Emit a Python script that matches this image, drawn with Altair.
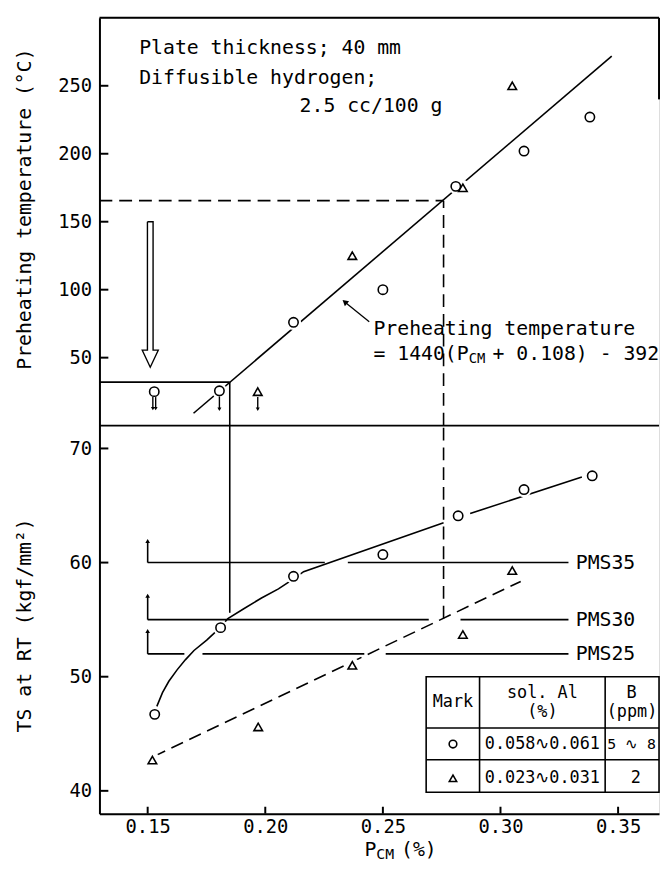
import altair as alt
import pandas as pd

FONT = "DejaVu Sans Mono"
W, H, H_TOP = 566, 805, 412.5
XMIN, XMAX = 0.1295, 0.3674
LW = 1.6

# ---------------- axis ticks ----------------
x_ticks = [0.15, 0.20, 0.25, 0.30, 0.35]
top_ticks = [50, 100, 150, 200, 250]
bot_ticks = [40, 50, 60, 70]

# ---------------- upper panel: preheating temperature ----------------
top_circle_x = [0.212, 0.250, 0.281, 0.310, 0.338]
top_circle_y = [76, 100, 176, 202, 227]
top_tri_x = [0.237, 0.284, 0.305]
top_tri_y = [125, 175, 250]
low_circle_x = [0.1528, 0.1805]
low_circle_y = [25.0, 25.6]
low_tri_x = [0.1968]
low_tri_y = [25.0]
# downward arrows below the lowest-temperature marks
low_arrow_x = [0.1522, 0.1534, 0.1805, 0.1968]
low_arrow_top = [21.0, 21.0, 21.5, 21.0]
low_arrow_tip = [12.5, 12.5, 12.0, 12.0]
reg_x = [0.1695, 0.3473]
reg_y = [9.1, 271.8]
box_level, box_pcm = 32, 0.1849
dash_level, dash_pcm = 165.5, 0.2758
bigarrow_x = [0.1499, 0.1523, 0.1523, 0.1545, 0.1511, 0.1477, 0.1499, 0.1499]
bigarrow_y = [150, 150, 55.5, 55.5, 43, 55.5, 55.5, 150]
leader_x = [0.2442, 0.2338]
leader_y = [76.5, 91.0]
top_text_x = [0.1464, 0.1464, 0.2146, 0.2460]
top_text_y = [278, 256, 235.4, 71.2]
top_text = ["Plate thickness; 40 mm", "Diffusible hydrogen;", "2.5 cc/100 g", "Preheating temperature"]
eq_x, eq_y = 0.2460, 52.9
eq_parts = ["= 1440(P", "CM", "+ 0.108) - 392"]

# ---------------- lower panel: tensile strength ----------------
bot_circle_x = [0.153, 0.181, 0.212, 0.250, 0.282, 0.310, 0.339]
bot_circle_y = [46.7, 54.3, 58.8, 60.7, 64.1, 66.4, 67.6]
bot_tri_x = [0.152, 0.197, 0.237, 0.284, 0.305]
bot_tri_y = [42.7, 45.6, 51.0, 53.7, 59.3]
curve_a_x = [0.1539, 0.1563, 0.1590, 0.1625, 0.1661, 0.1697, 0.1751, 0.1808,
             0.1841, 0.1912, 0.1984, 0.2056, 0.2122, 0.2163, 0.2758]
curve_a_y = [47.4, 48.6, 49.6, 50.6, 51.5, 52.3, 53.2, 54.3,
             55.1, 56.0, 56.9, 57.7, 58.6, 59.2, 63.5]
curve_b_x = [0.2871, 0.3346]
curve_b_y = [64.3, 67.5]
tri_line_x = [0.1525, 0.3086]
tri_line_y = [43.0, 58.35]
pms_names = ["PMS35", "PMS30", "PMS25"]
pms_level = [60, 55, 52]
pms_arrow_top = [61.9, 57.1, 54.0]
pms_seg_x1 = [0.15, 0.2351, 0.15, 0.2830, 0.15, 0.1733, 0.2512]
pms_seg_x2 = [0.2253, 0.3289, 0.2695, 0.3289, 0.1656, 0.2421, 0.3289]
pms_seg_y = [60, 60, 55, 55, 52, 52, 52]
pms_label_x = 0.3320
solid_v_bottom = 55.6
dash_v_bottom = 55.1

# ---------------- legend table ----------------
tab_x = [0.2684, 0.2911, 0.3445]      # left edge, column rules
tab_y = [50.0, 45.5, 42.73, 39.87]    # top, header rule, row rule, bottom
tab_text = ["Mark", "sol. Al", "(%)", "B", "(ppm)", "0.058∿0.061", "5 ∿ 8", "0.023∿0.031", "2"]
tab_text_x = [0.2798, 0.3178, 0.3178, 0.3557, 0.3559, 0.3178, 0.3557, 0.3178, 0.3575]
tab_text_y = [47.8, 48.6, 46.9, 48.6, 46.9, 44.1, 44.1, 41.1, 41.1]
tab_mark_x = [0.2798, 0.2798]
tab_mark_y = [44.1, 41.1]

# ================= scales / axes =================
xscale = alt.Scale(domain=[XMIN, XMAX], nice=False, zero=False)
xaxis = alt.Axis(values=x_ticks, format=".2f", title=None, labelFont=FONT, labelFontSize=19,
                 labelColor="black", labelPadding=4, ticks=False, tickSize=0,
                 domainColor="black", domainWidth=2, grid=False, labelFlush=False)
top_scale = alt.Scale(domain=[0, 300], range=[H_TOP, 0], nice=False, zero=False)
top_axis = alt.Axis(orient="left", values=top_ticks, title="Preheating temperature (°C)",
                    labelFont=FONT, labelFontSize=19, labelColor="black", labelPadding=8,
                    ticks=False, tickSize=0, domainColor="black", domainWidth=2, grid=False,
                    titleFont=FONT, titleFontSize=20, titleFontWeight="normal", titleColor="black",
                    titleX=-70, titleY=193, titleBaseline="alphabetic", titleAngle=270)
bot_scale = alt.Scale(domain=[38, 72], range=[H, H_TOP], nice=False, zero=False)
bot_axis = alt.Axis(orient="left", values=bot_ticks, title="TS at RT (kgf/mm²)",
                    labelFont=FONT, labelFontSize=19, labelColor="black", labelPadding=8,
                    ticks=False, tickSize=0, domainColor="black", domainWidth=2, grid=False,
                    titleFont=FONT, titleFontSize=20, titleFontWeight="normal", titleColor="black",
                    titleX=-70, titleY=614, titleBaseline="alphabetic", titleAngle=270)


def X(f="x"):
    return alt.X(f, type="quantitative", scale=xscale, axis=xaxis)


def YT(f="y"):
    return alt.Y(f, type="quantitative", scale=top_scale, axis=top_axis)


def YB(f="y"):
    return alt.Y(f, type="quantitative", scale=bot_scale, axis=bot_axis)


def D(**cols):
    return pd.DataFrame(cols)


def lines(xs, ys, Y, dash=None, width=LW):
    n = len(xs)
    d = D(x=xs, y=ys, i=list(range(n)))
    kw = dict(color="black", strokeWidth=width)
    if dash:
        kw["strokeDash"] = dash
    return alt.Chart(d).mark_line(**kw).encode(x=X("x"), y=Y("y"), order="i:Q")


def hrule(x1, x2, y, Y, dash=None, width=LW):
    kw = dict(color="black", strokeWidth=width)
    if dash:
        kw["strokeDash"] = dash
    return alt.Chart(D(x1=x1, x2=x2, y=y)).mark_rule(**kw).encode(
        x=X("x1"), x2=alt.X2("x2"), y=Y("y"))


def vrule(x, y1, y2, Y, dash=None, width=LW):
    kw = dict(color="black", strokeWidth=width)
    if dash:
        kw["strokeDash"] = dash
    return alt.Chart(D(x=x, y1=y1, y2=y2)).mark_rule(**kw).encode(
        x=X("x"), y=Y("y1"), y2=alt.Y2("y2"))


def heads(xs, ys, Y, shape, size=22):
    return alt.Chart(D(x=xs, y=ys)).mark_point(
        shape=shape, size=size, filled=True, color="black", opacity=1).encode(x=X("x"), y=Y("y"))


def markers(xs, ys, Y, shape, size=90, halo=False):
    if halo:
        return alt.Chart(D(x=xs, y=ys)).mark_point(
            shape="circle", size=240, filled=True, color="white", opacity=1).encode(x=X("x"), y=Y("y"))
    return alt.Chart(D(x=xs, y=ys)).mark_point(
        shape=shape, size=size, filled=False, color="black", strokeWidth=1.6, opacity=1
    ).encode(x=X("x"), y=Y("y"))


def texts(xs, ys, ts, Y, size=20, align="left", dx=0, dy=0):
    return alt.Chart(D(x=xs, y=ys, t=ts)).mark_text(
        font=FONT, fontSize=size, align=align, baseline="middle", color="black", dx=dx, dy=dy
    ).encode(x=X("x"), y=Y("y"), text="t:N")


DASH = [13, 7]
CW20 = 0.6021 * 20
CW14 = 0.6021 * 14

# ================= upper group =================
top_layers = [
    alt.Chart(D(y=top_ticks)).mark_rule(color="black", strokeWidth=2).encode(
        x=alt.value(0), x2=alt.value(9), y=YT("y")),
    hrule([XMIN], [XMAX], [300], YT, width=2),
    vrule([XMAX], [240], [300], YT, width=2),
    lines(reg_x, reg_y, YT),
    lines(leader_x, leader_y, YT, width=1.3),
    alt.Chart(D(x=[leader_x[1]], y=[leader_y[1]])).mark_point(
        shape="triangle-up", size=45, filled=True, color="black", angle=310, opacity=1
    ).encode(x=X("x"), y=YT("y")),
    lines(bigarrow_x, bigarrow_y, YT, width=1.4),
    markers(top_circle_x + low_circle_x + top_tri_x + low_tri_x,
            top_circle_y + low_circle_y + top_tri_y + low_tri_y, YT, "circle", halo=True),
    markers(top_circle_x + low_circle_x, top_circle_y + low_circle_y, YT, "circle"),
    markers(top_tri_x + low_tri_x, top_tri_y + low_tri_y, YT, "triangle-up", size=75),
    hrule([XMIN], [box_pcm], [box_level], YT),
    vrule([box_pcm], [0], [box_level], YT),
    hrule([XMIN], [dash_pcm], [dash_level], YT, dash=DASH),
    vrule([dash_pcm], [0], [dash_level], YT, dash=DASH),
    vrule(low_arrow_x, low_arrow_tip, low_arrow_top, YT, width=1.4),
    heads(low_arrow_x, low_arrow_tip, YT, "triangle-down", size=16),
    texts(top_text_x, top_text_y, top_text, YT, size=20),
    texts([eq_x], [eq_y], [eq_parts[0]], YT, size=20),
    texts([eq_x], [eq_y], [eq_parts[1]], YT, size=14, dx=8 * CW20, dy=5),
    texts([eq_x], [eq_y], [eq_parts[2]], YT, size=20, dx=8 * CW20 + 2 * CW14 + CW20 * 0.6),
]
top_group = alt.layer(*top_layers)

# ================= lower group =================
seg_x = curve_a_x + curve_b_x
seg_y = curve_a_y + curve_b_y
seg_id = ["a"] * len(curve_a_x) + ["b"] * len(curve_b_x)
curve = alt.Chart(D(x=seg_x, y=seg_y, s=seg_id, i=list(range(len(seg_x))))).mark_line(
    color="black", strokeWidth=LW).encode(
    x=X("x"), y=YB("y"), detail="s:N", order="i:Q")

bot_layers = [
    alt.Chart(D(y=bot_ticks)).mark_rule(color="black", strokeWidth=2).encode(
        x=alt.value(0), x2=alt.value(9), y=YB("y")),
    alt.Chart(D(x=x_ticks)).mark_rule(color="black", strokeWidth=2).encode(
        x=X("x"), y=alt.value(H), y2=alt.value(H - 7)),
    hrule([XMIN], [XMAX], [72], YB, width=2),
    curve,
    lines(tri_line_x, tri_line_y, YB, dash=DASH),
    markers(bot_circle_x + bot_tri_x, bot_circle_y + bot_tri_y, YB, "circle", halo=True),
    markers(bot_circle_x, bot_circle_y, YB, "circle"),
    markers(bot_tri_x, bot_tri_y, YB, "triangle-up", size=75),
    vrule([box_pcm], [solid_v_bottom], [72], YB),
    vrule([dash_pcm], [dash_v_bottom], [72], YB, dash=DASH),
    hrule(pms_seg_x1, pms_seg_x2, pms_seg_y, YB),
    vrule([0.15] * 3, pms_level, pms_arrow_top, YB),
    heads([0.15] * 3, pms_arrow_top, YB, "triangle-up", size=22),
    texts([pms_label_x] * 3, pms_level, pms_names, YB, size=20),
    # legend table
    alt.Chart(D(x1=[tab_x[0]], x2=[XMAX], y1=[tab_y[3]], y2=[tab_y[0]])).mark_rect(
        fill="white", stroke="black", strokeWidth=1.6).encode(
        x=X("x1"), x2=alt.X2("x2"), y=YB("y1"), y2=alt.Y2("y2")),
    vrule(tab_x[1:], [tab_y[3]] * 2, [tab_y[0]] * 2, YB),
    hrule([tab_x[0]] * 2, [XMAX] * 2, tab_y[1:3], YB),
    texts(tab_text_x[:6], tab_text_y[:6], tab_text[:6], YB, size=17, align="center"),
    texts(tab_text_x[6:7], tab_text_y[6:7], tab_text[6:7], YB, size=15, align="center"),
    texts(tab_text_x[7:], tab_text_y[7:], tab_text[7:], YB, size=17, align="center"),
    markers(tab_mark_x[:1], tab_mark_y[:1], YB, "circle", size=60),
    markers(tab_mark_x[1:], tab_mark_y[1:], YB, "triangle-up", size=55),
    # x-axis title with subscript
    alt.Chart(D(t=["P"])).mark_text(font=FONT, fontSize=20, align="left", baseline="alphabetic",
                                     color="black").encode(x=alt.value(268), y=alt.value(H + 43), text="t:N"),
    alt.Chart(D(t=["CM"])).mark_text(font=FONT, fontSize=15, align="left", baseline="alphabetic",
                                      color="black").encode(x=alt.value(280), y=alt.value(H + 46), text="t:N"),
    alt.Chart(D(t=["(%)"])).mark_text(font=FONT, fontSize=20, align="left", baseline="alphabetic",
                                       color="black").encode(x=alt.value(305), y=alt.value(H + 43), text="t:N"),
]
bot_group = alt.layer(*bot_layers)

chart = alt.layer(top_group, bot_group).resolve_scale(y="independent").properties(
    width=W, height=H,
    autosize=alt.AutoSizeParams(type="none"),
    padding={"left": 92.5, "top": 5, "right": 2, "bottom": 47},
).configure_view(stroke=None).configure(background="white")

chart.save("out.html", embed_options={"renderer": "svg", "actions": False})
